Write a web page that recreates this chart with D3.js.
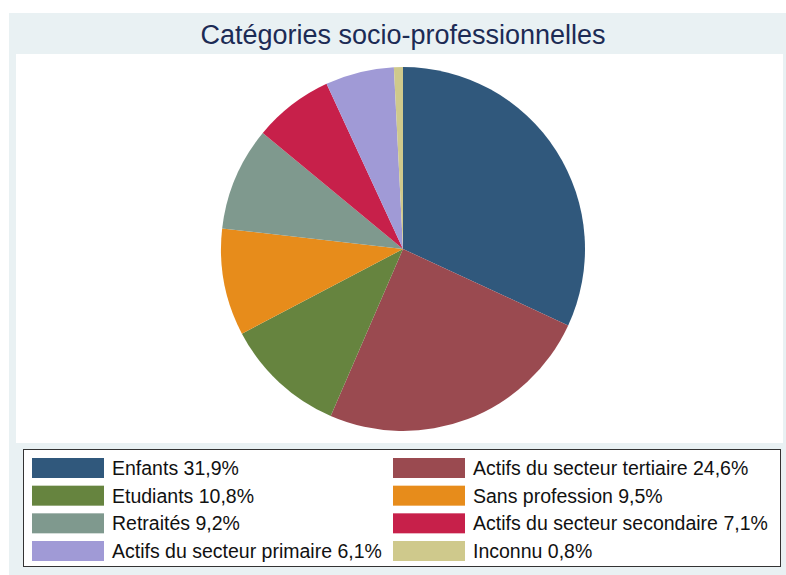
<!DOCTYPE html>
<html lang="fr">
<head>
    <meta charset="UTF-8">
    <title>Catégories socio-professionnelles</title>
    <script src="https://d3js.org/d3.v7.min.js"></script>
    <style>
        body { margin: 0; background: #fff; }
        text { font-family: "Liberation Sans", Arial, sans-serif; }
    </style>
</head>
<body>
    <svg id="chart" width="786" height="575"></svg>

    <script>
        // Data
        const categories = [
            "Enfants",
            "Actifs du secteur tertiaire",
            "Etudiants",
            "Sans profession",
            "Retraités",
            "Actifs du secteur secondaire",
            "Actifs du secteur primaire",
            "Inconnu"
        ];
        const shares = [31.9, 24.6, 10.8, 9.5, 9.2, 7.1, 6.1, 0.8];
        const colors = ["#30587c", "#9a4a50", "#66843f", "#e78c1b",
                        "#7f998e", "#c7204a", "#a09ad6", "#cfc98c"];

        const data = categories.map((c, i) => ({ name: c, value: shares[i] }));

        const svg = d3.select("#chart");

        // Outer graph region
        svg.append("rect")
            .attr("x", 9).attr("y", 13)
            .attr("width", 777).attr("height", 562)
            .attr("fill", "#e9f1f3");

        // Plot region
        svg.append("rect")
            .attr("x", 16).attr("y", 54)
            .attr("width", 767).attr("height", 389)
            .attr("fill", "#ffffff");

        // Title
        svg.append("text")
            .attr("x", 403).attr("y", 44)
            .attr("text-anchor", "middle")
            .attr("font-size", 27)
            .attr("fill", "#1c2b55")
            .text("Catégories socio-professionnelles");

        // Pie
        const radius = 182;
        const pie = d3.pie().sort(null).value(d => d.value);
        const arc = d3.arc().innerRadius(0).outerRadius(radius);
        const color = d3.scaleOrdinal().domain(categories).range(colors);

        svg.append("g")
            .attr("transform", "translate(403,249)")
            .selectAll("path")
            .data(pie(data))
            .enter().append("path")
            .attr("d", arc)
            .attr("fill", d => color(d.data.name));

        // Legend
        const legend = svg.append("g");
        legend.append("rect")
            .attr("x", 23.5).attr("y", 449.5)
            .attr("width", 757).attr("height", 117)
            .attr("fill", "#ffffff")
            .attr("stroke", "#333")
            .attr("stroke-width", 1);

        const colX = [32, 393];
        const rowY = d3.scaleLinear().domain([0, 3]).range([458, 541]);

        const items = legend.selectAll(".item")
            .data(data)
            .enter().append("g")
            .attr("class", "item")
            .attr("transform", (d, i) => "translate(" + colX[i % 2] + "," + rowY(Math.floor(i / 2)) + ")");

        items.append("rect")
            .attr("width", 72).attr("height", 20)
            .attr("fill", d => color(d.name));

        items.append("text")
            .attr("x", 80).attr("y", 17)
            .attr("font-size", 19.5)
            .attr("fill", "#111")
            .text(d => d.name + " " + d3.format(".1f")(d.value).replace(".", ",") + "%");
    </script>
</body>
</html>
